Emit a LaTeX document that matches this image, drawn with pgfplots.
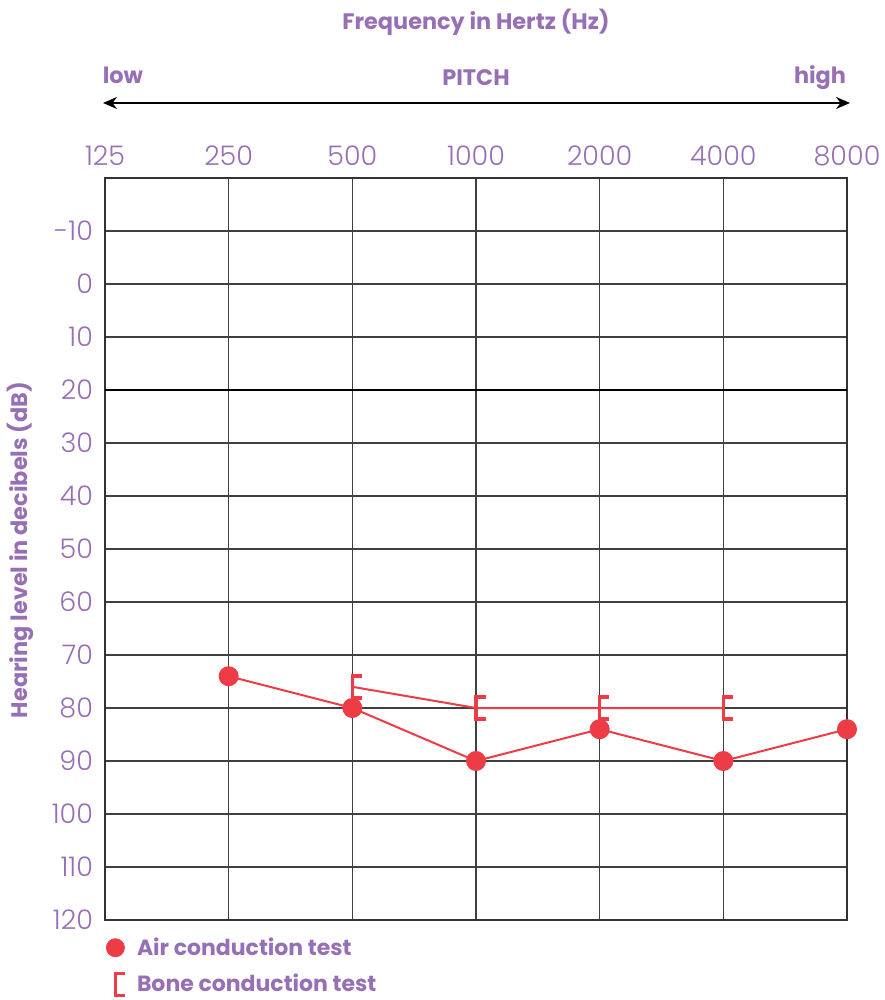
\documentclass[border=0pt]{standalone}
\usepackage{fontspec}
\setmainfont{Poppins}
\newfontfamily\lightfont{Poppins Light}
\usepackage{pgfplots}
\pgfplotsset{compat=1.18}
\usetikzlibrary{arrows.meta}
\definecolor{lav}{RGB}{151,111,181}
\definecolor{hred}{RGB}{238,60,70}
\pgfdeclareplotmark{bone}{%
  \pgfpathmoveto{\pgfpoint{4.8pt}{5.5pt}}%
  \pgfpathlineto{\pgfpoint{0pt}{5.5pt}}%
  \pgfpathlineto{\pgfpoint{0pt}{-5.5pt}}%
  \pgfpathlineto{\pgfpoint{4.8pt}{-5.5pt}}%
  \pgfusepathqstroke}
\begin{document}
\begin{tikzpicture}
\useasboundingbox (-52.5pt,-40pt) rectangle (389.5pt,460pt);
\begin{axis}[
  at={(0,0)}, anchor=south west,
  width=371pt, height=371pt, scale only axis,
  xmin=0, xmax=6, ymin=-20, ymax=120, y dir=reverse,
  clip=false,
  xtick={0,1,2,3,4,5,6},
  xticklabels={125,250,500,1000,2000,4000,8000},
  xticklabel pos=right,
  ytick={-10,0,10,20,30,40,50,60,70,80,90,100,110,120},
  /pgf/number format/assume math mode=true,
  tick style={draw=none},
  grid=major,
  major grid style={draw=black!75, line width=0.65pt},
  axis line style={draw=black!80, line width=0.8pt},
  tick label style={text=lav, font=\lightfont\fontsize{13.5}{15}\selectfont},
  xticklabel style={yshift=2.5pt},
  yticklabel style={xshift=-2.5pt},
  legend style={at={(0,0)}, anchor=north west, draw=none, fill=none,
    xshift=0.5pt, yshift=-6.5pt, inner sep=0pt, column sep=4pt,
    font=\bfseries\fontsize{11}{13}\selectfont, text=lav,
    row sep=4pt, cells={anchor=west}},
]
\addplot[black, line width=1.3pt, forget plot] coordinates {(0,20) (6,20)};
\addplot[hred, line width=1pt, mark=*, mark size=4.5pt, forget plot]
  coordinates {(1,74) (2,80) (3,90) (4,84) (5,90) (6,84)};
\addplot[hred, line width=1pt, mark=bone, mark options={line width=1.8pt, line join=miter}, forget plot]
  coordinates {(2,76) (3,80) (4,80) (5,80)};
\addlegendimage{only marks, hred, mark=*, mark size=4.5pt}
\addlegendentry{Air conduction test}
\addlegendimage{only marks, hred, mark=bone, mark options={line width=1.8pt, line join=miter}}
\addlegendentry{Bone conduction test}
\end{axis}
\begin{scope}[every node/.style={text=lav, font=\bfseries\fontsize{11.2}{13}\selectfont}]
\node at (185.5pt,449pt) {Frequency in Hertz (Hz)};
\node at (9pt,422.5pt) {low};
\node at (185.5pt,421pt) {PITCH};
\node at (357.5pt,421pt) {high};
\node[rotate=90] at (-42.5pt,185pt) {Hearing level in decibels (dB)};
\end{scope}
\draw[{Stealth[length=7pt,width=6pt]}-{Stealth[length=7pt,width=6pt]}, line width=1pt] (-1pt,408.5pt) -- (372.5pt,408.5pt);
\end{tikzpicture}
\end{document}
